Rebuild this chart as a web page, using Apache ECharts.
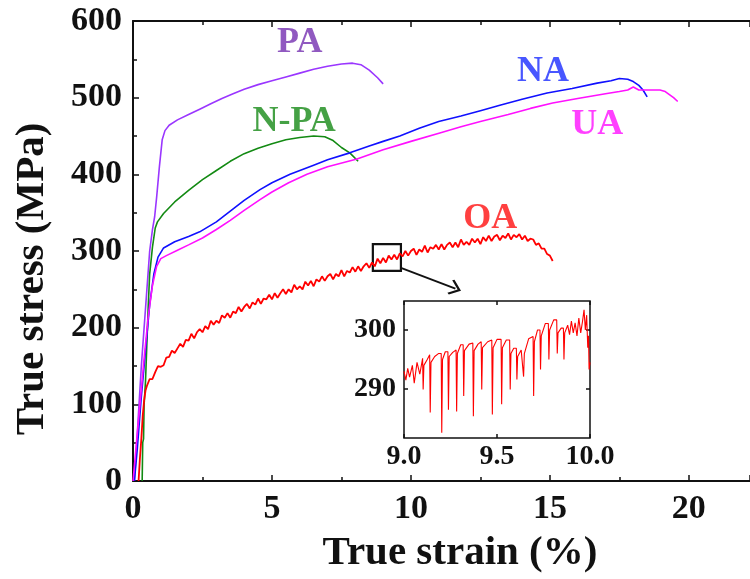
<!DOCTYPE html>
<html>
<head>
<meta charset="utf-8">
<script src="https://cdn.jsdelivr.net/npm/echarts@6/dist/echarts.min.js"></script>
<style>
  html, body { margin: 0; padding: 0; background: #fff; }
  #chart { width: 750px; height: 579px; }
</style>
</head>
<body>
<div id="chart"></div>
<script>
// True stress-strain curves, [true strain (%), true stress (MPa)]
const PA = [[0.05,0],[0.12,40],[0.2,90],[0.3,150],[0.4,200],[0.5,250],[0.6,300],[0.7,328],[0.78,345],
  [0.85,370],[0.95,410],[1.05,445],[1.15,457],[1.3,464],[1.6,471],[2.0,478],[2.4,485],[2.8,492],
  [3.2,499],[3.6,505],[4.0,511],[4.5,517],[5.0,522],[5.5,527],[6.0,532],[6.5,537],[7.0,541],
  [7.5,544],[7.9,545],[8.2,543],[8.5,536],[8.8,526],[9.0,518]];

const NPA = [[0.33,0],[0.35,50],[0.38,55],[0.4,100],[0.45,130],[0.5,180],[0.55,230],[0.6,270],
  [0.7,305],[0.8,330],[0.88,338],[1.1,349],[1.5,364],[2.0,379],[2.5,393],[3.0,405],[3.5,417],
  [4.0,427],[4.5,434],[5.0,440],[5.5,445],[6.0,448],[6.5,450],[6.9,449],[7.2,444],[7.5,435],
  [7.8,428],[8.1,417]];

const NA = [[0.05,0],[0.15,40],[0.3,110],[0.45,170],[0.6,230],[0.75,270],[0.9,292],[1.1,304],
  [1.5,312],[2.0,319],[2.4,325],[3.0,338],[3.5,352],[4.0,366],[4.57,380],[5.0,389],[5.65,400],
  [6.5,412],[7.0,419],[7.8,428],[8.5,437],[9.0,443],[9.6,450],[10.3,460],[11.0,469],[11.8,476],
  [12.5,483],[13.2,490],[14.0,498],[14.9,506],[15.8,512],[16.7,519],[17.2,522],[17.5,525],
  [17.8,524],[18.0,521],[18.2,516],[18.35,510],[18.5,501]];

const UA = [[0.0,0],[0.1,40],[0.25,100],[0.4,160],[0.55,215],[0.7,255],[0.85,280],[1.0,290],
  [1.2,294],[1.6,301],[2.0,308],[2.5,317],[3.0,328],[3.5,340],[4.0,353],[4.57,367],[5.0,377],
  [5.6,389],[6.26,400],[7.0,410],[8.06,420],[9.0,432],[10.0,443],[11.04,454],[11.8,462],
  [12.5,469],[13.5,478],[14.3,486],[15.1,493],[16.0,499],[17.0,505],[17.5,508],[17.8,510],
  [18.0,514],[18.2,510],[18.6,510],[18.96,510],[19.15,508],[19.3,504],[19.45,500],[19.6,495]];

const OA = [[0.2,0],[0.25,30],[0.3,55],[0.35,85],[0.4,105],[0.45,118],[0.5,124],
  [0.6,133],[0.7,133],[0.8,142],[0.9,150],[1.0,149],[1.1,151],[1.2,161],[1.3,162],[1.4,170],
  [1.5,167],[1.6,173],[1.7,179],[1.8,175],[1.9,184],[2.0,183],[2.1,192],[2.2,186],[2.3,194],
  [2.4,198],[2.5,194],[2.6,202],[2.7,198],[2.8,209],[2.9,204],[3.0,209],[3.1,206],[3.2,216],
  [3.3,213],[3.4,219],[3.5,213],[3.6,221],[3.7,219],[3.8,227],[3.9,221],[4.0,227],[4.1,231],
  [4.2,225],[4.3,233],[4.4,230],[4.5,238],[4.6,231],[4.7,238],[4.8,237],[4.9,243],[5.0,237],
  [5.1,245],[5.2,239],[5.3,245],[5.4,250],[5.5,244],[5.6,250],[5.7,246],[5.8,256],[5.9,250],
  [6.0,254],[6.1,250],[6.2,260],[6.3,255],[6.4,261],[6.5,254],[6.6,263],[6.7,260],[6.8,267],
  [6.9,261],[7.0,267],[7.1,270],[7.2,263],[7.3,270],[7.4,267],[7.5,275],[7.6,267],[7.7,274],
  [7.8,272],[7.9,279],[8.0,273],[8.1,280],[8.2,274],[8.3,280],[8.4,284],[8.5,278],[8.6,285],
  [8.7,280],[8.8,290],[8.9,284],[9.0,291],[9.1,285],[9.2,294],[9.3,289],[9.4,295],[9.5,289],
  [9.6,297],[9.7,293],[9.8,300],[9.9,294],[10.0,300],[10.1,303],[10.2,295],[10.3,302],
  [10.4,299],[10.5,307],[10.6,298],[10.7,305],[10.8,303],[10.9,308],[11.0,302],[11.1,309],
  [11.2,302],[11.3,308],[11.4,311],[11.5,305],[11.6,311],[11.7,305],[11.8,315],[11.9,308],
  [12.0,312],[12.1,308],[12.2,316],[12.3,311],[12.4,316],[12.5,309],[12.6,318],[12.7,313],
  [12.8,320],[12.9,313],[13.0,319],[13.1,321],[13.2,314],[13.3,320],[13.4,317],[13.5,323],
  [13.6,315],[13.7,321],[13.8,318],[13.9,322],[14.0,315],[14.1,320],[14.2,313],[14.3,316],
  [14.4,315],[14.5,308],[14.6,310],[14.7,303],[14.8,303],[14.9,296],[15.0,294],[15.1,287]];

// Serrated flow of OA between 9 and 10 % strain (enlarged view)
const OA_ZOOM = [[9.000,293.0],[9.010,291.5],[9.020,293.5],[9.030,292.0],[9.045,294.0],[9.055,291.0],
  [9.070,294.5],[9.085,292.5],[9.100,295.2],[9.103,289.9],[9.107,294.0],[9.125,295.0],[9.138,295.8],
  [9.141,286.0],[9.145,294.5],[9.165,295.5],[9.185,296.0],[9.200,296.0],[9.203,282.6],[9.207,295.0],
  [9.222,296.3],[9.236,296.3],[9.239,286.5],[9.243,295.5],[9.262,296.2],[9.280,296.6],[9.283,286.2],
  [9.287,296.0],[9.305,297.5],[9.318,297.5],[9.321,288.8],[9.325,296.5],[9.350,297.6],[9.370,297.8],
  [9.373,285.4],[9.377,296.5],[9.398,297.6],[9.415,298.0],[9.418,289.9],[9.422,297.0],[9.450,298.0],
  [9.472,298.3],[9.475,285.7],[9.479,297.0],[9.500,298.4],[9.522,298.4],[9.525,287.4],[9.529,297.0],
  [9.550,298.3],[9.568,298.3],[9.571,289.9],[9.575,296.0],[9.590,296.9],[9.604,296.9],[9.607,291.6],
  [9.611,295.5],[9.630,296.6],[9.640,296.6],[9.643,292.1],[9.647,296.0],[9.670,298.5],[9.694,298.9],
  [9.697,288.8],[9.701,298.0],[9.718,300.0],[9.731,300.0],[9.734,293.3],[9.738,299.0],[9.760,301.1],
  [9.776,301.1],[9.779,295.0],[9.783,300.0],[9.805,301.7],[9.821,301.7],[9.824,296.0],[9.828,299.5],
  [9.845,300.3],[9.857,300.3],[9.860,295.0],[9.864,299.5],[9.880,300.8],[9.890,299.2],[9.900,301.5],
  [9.910,299.5],[9.920,301.2],[9.930,299.0],[9.940,302.0],[9.950,299.5],[9.960,301.5],[9.968,303.4],
  [9.975,300.0],[9.982,302.5],[9.988,297.0],[9.992,299.0],[9.995,293.3],[10.0,294.5]];

const seriesNames = ['PA', 'N-PA', 'NA', 'UA', 'OA'];
const seriesData = [PA, NPA, NA, UA, OA];
const lineColors = ['#9a36ff', '#138a13', '#1010ff', '#ff10ff', '#ff0000'];
const textColors = ['#7430b0', '#168a16', '#1a2cff', '#ff10ff', '#ff1010'];
// where each curve's name sits, in strain / stress units
const labelAnchors = [[6.0, 572], [5.8, 469], [14.75, 534], [16.7, 465], [12.85, 342]];
// region of OA enlarged in the inset, and the pointer towards it
const zoomBox = [[8.63, 274], [9.64, 309]];
const pointer = [[9.64, 278], [11.6, 251]];

const X_MAX = 22.2;
const insetTicksY = [290, 300];

const serif = 'Liberation Serif, Times New Roman, serif';
const ink = '#111';

const chart = echarts.init(document.getElementById('chart'), null, { renderer: 'canvas' });

const lineSeries = seriesData.map((d, i) => ({
  name: seriesNames[i],
  type: 'line',
  xAxisIndex: 0,
  yAxisIndex: 0,
  data: d,
  showSymbol: false,
  silent: true,
  lineStyle: { color: lineColors[i], width: i === 4 ? 1.8 : 1.6 },
  z: 3
}));

// OA carries the box marking the enlarged window and the arrow towards the inset
lineSeries[4].markArea = {
  silent: true,
  itemStyle: { color: 'rgba(0,0,0,0)', borderColor: ink, borderWidth: 2.2 },
  data: [[{ coord: zoomBox[0] }, { coord: zoomBox[1] }]]
};
lineSeries[4].markLine = {
  silent: true,
  symbol: ['none', 'path://M0,0 L10,8 L8.4,9.6 L0,2.9 L-8.4,9.6 L-10,8 Z'],
  symbolSize: [16, 12],
  label: { show: false },
  lineStyle: { color: ink, width: 2, type: 'solid' },
  data: [[{ coord: pointer[0] }, { coord: pointer[1] }]]
};

const nameLabels = {
  type: 'scatter',
  xAxisIndex: 0,
  yAxisIndex: 0,
  symbolSize: 0,
  silent: true,
  data: labelAnchors.map((p, i) => ({
    value: p,
    name: seriesNames[i],
    label: { color: textColors[i] }
  })),
  label: {
    show: true,
    position: 'inside',
    formatter: p => p.name,
    fontFamily: serif,
    fontWeight: 'bold',
    fontSize: 36
  },
  z: 5
};

const insetSeries = {
  name: 'OA',
  type: 'line',
  xAxisIndex: 2,
  yAxisIndex: 1,
  data: OA_ZOOM,
  showSymbol: false,
  silent: true,
  lineStyle: { color: '#ff0000', width: 1.1 },
  z: 10
};

const tickInside = (len) => ({ show: true, inside: true, length: len, lineStyle: { color: ink, width: 1.5 } });

const option = {
  animation: false,
  backgroundColor: '#fff',
  grid: [
    { left: 133, top: 21, right: 0, bottom: 97 },
    { left: 404, top: 301, width: 186, height: 137, show: true, borderColor: ink, borderWidth: 1.5 }
  ],
  xAxis: [
    {
      gridIndex: 0, type: 'value', min: 0, max: X_MAX, interval: 5,
      name: 'True strain (%)', nameLocation: 'middle', nameGap: 52,
      nameTextStyle: { fontFamily: serif, fontWeight: 'bold', fontSize: 41, color: ink, padding: [0, 0, 0, 37] },
      axisLine: { show: true, lineStyle: { color: ink, width: 2 } },
      axisTick: tickInside(6),
      minorTick: { show: true, splitNumber: 2, length: 4, lineStyle: { color: ink, width: 1.5 } },
      splitLine: { show: false },
      axisLabel: { fontFamily: serif, fontWeight: 'bold', fontSize: 34, color: ink, margin: 11, showMaxLabel: false }
    },
    {
      gridIndex: 0, type: 'value', position: 'top', min: 0, max: X_MAX, interval: 5,
      axisLine: { show: true, lineStyle: { color: ink, width: 2 } },
      axisTick: tickInside(6),
      minorTick: { show: true, splitNumber: 2, length: 4, lineStyle: { color: ink, width: 1.5 } },
      splitLine: { show: false },
      axisLabel: { show: false }
    },
    {
      gridIndex: 1, type: 'value', min: 9, max: 10, interval: 0.5,
      axisLine: { show: false },
      axisTick: tickInside(4),
      splitLine: { show: false },
      axisLabel: { fontFamily: serif, fontWeight: 'bold', fontSize: 28, color: ink, margin: 5, formatter: v => v.toFixed(1) }
    },
    {
      gridIndex: 1, type: 'value', position: 'top', min: 9, max: 10, interval: 0.5,
      axisLine: { show: false },
      axisTick: tickInside(4),
      splitLine: { show: false },
      axisLabel: { show: false }
    }
  ],
  yAxis: [
    {
      gridIndex: 0, type: 'value', min: 0, max: 600, interval: 100,
      name: 'True stress (MPa)', nameLocation: 'middle', nameGap: 80, nameRotate: 90,
      nameTextStyle: { fontFamily: serif, fontWeight: 'bold', fontSize: 41, color: ink, padding: [0, 56, 0, 0] },
      axisLine: { show: true, lineStyle: { color: ink, width: 2 } },
      axisTick: tickInside(6),
      minorTick: { show: true, splitNumber: 2, length: 4, lineStyle: { color: ink, width: 1.5 } },
      splitLine: { show: false },
      axisLabel: { fontFamily: serif, fontWeight: 'bold', fontSize: 34, color: ink, margin: 11 }
    },
    {
      gridIndex: 1, type: 'value', min: 281.7, max: 304.9,
      axisLine: { show: false },
      axisTick: { show: true, inside: true, length: 4, customValues: insetTicksY, lineStyle: { color: ink, width: 1.5 } },
      splitLine: { show: false },
      axisLabel: { fontFamily: serif, fontWeight: 'bold', fontSize: 28, color: ink, margin: 8, customValues: insetTicksY }
    },
    {
      gridIndex: 1, type: 'value', position: 'right', min: 281.7, max: 304.9,
      axisLine: { show: false },
      axisTick: { show: true, inside: true, length: 4, customValues: insetTicksY, lineStyle: { color: ink, width: 1.5 } },
      splitLine: { show: false },
      axisLabel: { show: false }
    }
  ],
  series: [...lineSeries, nameLabels, insetSeries]
};

chart.setOption(option);
</script>
</body>
</html>
